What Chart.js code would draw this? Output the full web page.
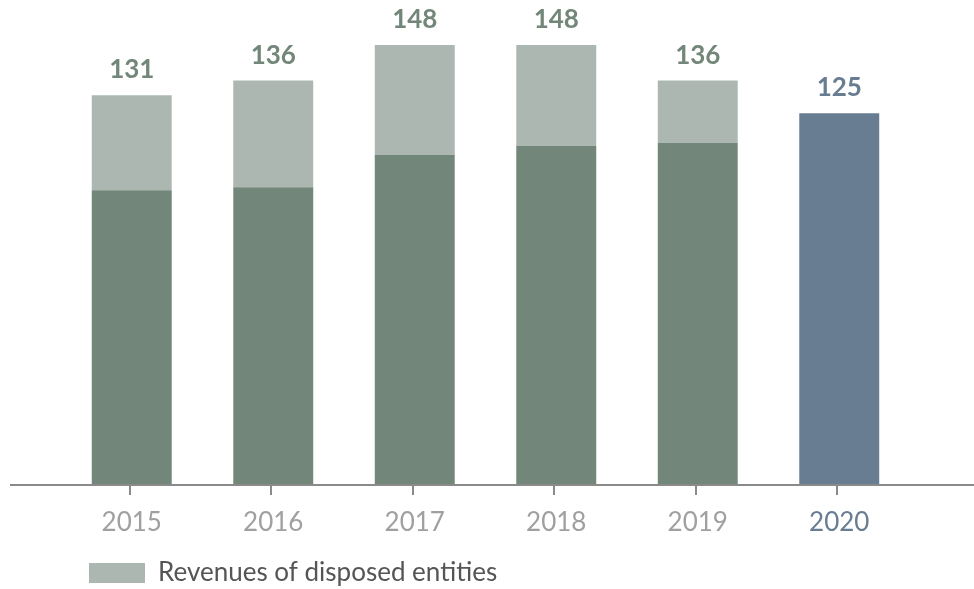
<!DOCTYPE html>
<html>
<head>
<meta charset="utf-8">
<script src="https://cdn.jsdelivr.net/npm/chart.js@4.4.1/dist/chart.umd.min.js"></script>
<style>
  html, body { margin: 0; padding: 0; background: #fff; }
  #wrap { width: 974px; height: 589px; position: relative; }
</style>
</head>
<body>
<div id="wrap"><canvas id="grafico"></canvas></div>
<script>
// dados do grafico
const anos = ['2015', '2016', '2017', '2018', '2019', '2020'];
const continuidade = [99, 100, 111, 114, 115, 125];
const alienadas = [32, 36, 37, 34, 21, 0];   // Revenues of disposed entities

const verde = '#728779';
const verdeClaro = '#abb7b0';
const azul = '#687d91';
const cinza = '#a0a0a0';

const totais = anos.map((a, i) => continuidade[i] + alienadas[i]);

// linha de base (passa por baixo das barras) + tracinhos de cada ano
const linhaBase = {
    id: 'linhaBase',
    beforeDatasetsDraw(chart) {
        const ctx = chart.ctx;
        const xs = chart.scales.x;
        const y = chart.scales.y.getPixelForValue(0) + 1;
        ctx.save();
        ctx.strokeStyle = '#8a8a8a';
        ctx.lineWidth = 2;
        ctx.beginPath();
        ctx.moveTo(10, y);
        ctx.lineTo(chart.width, y);
        anos.forEach((a, i) => {
            const x = Math.round(xs.getPixelForTick(i)) - 2;
            ctx.moveTo(x, y);
            ctx.lineTo(x, y + 10);
        });
        ctx.stroke();
        ctx.restore();
    }
};

// total em cima de cada coluna
const rotulos = {
    id: 'rotulos',
    afterDatasetsDraw(chart) {
        const ctx = chart.ctx;
        const topo = chart.getDatasetMeta(1);
        ctx.save();
        ctx.font = 'bold 26px Lato';
        ctx.textAlign = 'center';
        ctx.textBaseline = 'alphabetic';
        topo.data.forEach((bar, i) => {
            ctx.fillStyle = i === anos.length - 1 ? azul : verde;
            ctx.fillText(totais[i], bar.x, bar.y - 17);
        });
        ctx.restore();
    }
};

const ctx = document.getElementById('grafico').getContext('2d');
new Chart(ctx, {
    type: 'bar',
    data: {
        labels: anos,
        datasets: [
            {
                label: 'Continuing',
                data: continuidade,
                backgroundColor: anos.map((a, i) => i === anos.length - 1 ? azul : verde),
                borderWidth: 0
            },
            {
                label: 'Revenues of disposed entities',
                data: alienadas,
                backgroundColor: verdeClaro,
                borderWidth: 0
            }
        ]
    },
    options: {
        responsive: true,
        maintainAspectRatio: false,
        animation: false,
        devicePixelRatio: 1,
        categoryPercentage: 0.565,
        barPercentage: 1,
        layout: {
            padding: { left: 61, right: 64, top: 20, bottom: -7 }
        },
        plugins: {
            tooltip: { enabled: false },
            legend: {
                position: 'bottom',
                align: 'start',
                labels: {
                    boxWidth: 56,
                    boxHeight: 20,
                    padding: 28,
                    color: '#555555',
                    font: { family: 'Lato', size: 26 },
                    filter: item => item.datasetIndex === 1
                }
            }
        },
        scales: {
            x: {
                stacked: true,
                border: { display: false },
                grid: { display: false },
                afterFit: scale => { scale.height = 48; },
                ticks: {
                    padding: 22,
                    font: { family: 'Lato', size: 26, lineHeight: 0.7 },
                    color: c => c.index === anos.length - 1 ? azul : cinza
                }
            },
            y: {
                stacked: true,
                display: false,
                min: 0,
                max: 156.4
            }
        }
    },
    plugins: [linhaBase, rotulos]
});
</script>
</body>
</html>
